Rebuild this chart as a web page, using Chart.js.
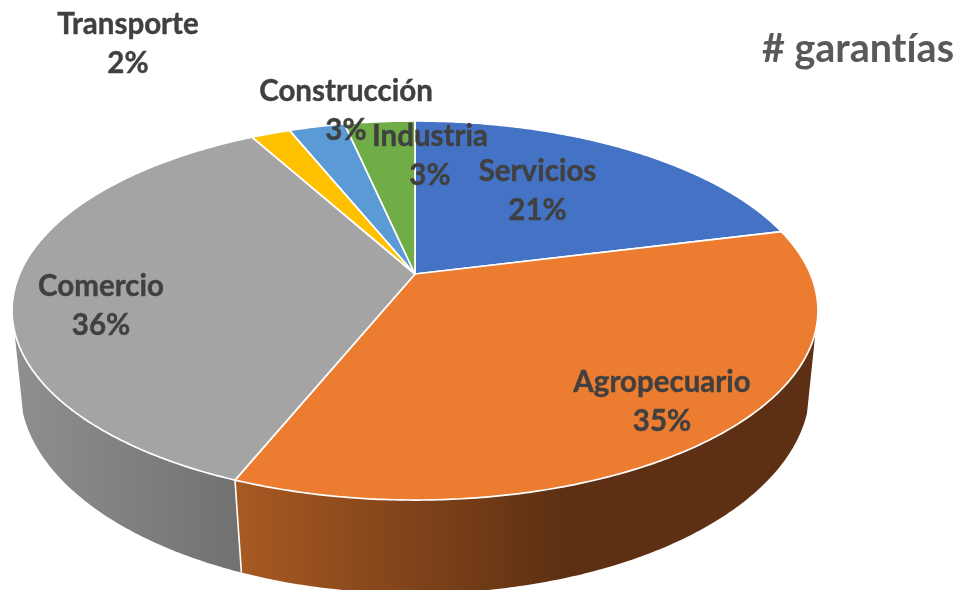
<!DOCTYPE html>
<html><head><meta charset="utf-8">
<style>html,body{margin:0;padding:0;background:#fff}#w{width:960px;height:590px;overflow:hidden}</style>
<script src="https://cdn.jsdelivr.net/npm/chart.js@4"></script>
</head><body><div id="w"><canvas id="c" width="960" height="590"></canvas></div>
<script>
const categories = ["Servicios","Agropecuario","Comercio","Transporte","Construcción","Industria"];
const shares = [21.1,35.0,35.9,1.9,2.7,3.4];
const topColors = ["#4472C4","#EC7C30","#A4A4A4","#FFC000","#5B9BD5","#70AD47"];
const chartTitle = "# garantías";

const FONT = '"Lato","Carlito","Noto Sans",sans-serif';
// perspective of the pie disc: top rim and bottom rim
const topRim = {cx:415, y0:274, A:395.4, a:182.5, b:0.1926};
const botRim = {cx:415, y0:352, A:388.9, a:199.2, b:0.175};
function project(r, t){
  const u=Math.cos(t), v=Math.sin(t), w=1-r.b*v;
  return [r.cx + r.A*u/w, r.y0 + r.a*v/w];
}
const labelCentres = [[537.5,191],[662,402],[101,305.5],[128,43.5],[346,110.5],[430,156]];
const frontFrom = 17*Math.PI/180, frontTo = 163*Math.PI/180;

const pie3d = {
  id:'pie3d',
  beforeDraw(chart){ chart.ctx.textRendering='optimizeSpeed'; },
  beforeDatasetsDraw(chart){
    const ctx=chart.ctx, arcs=chart.getDatasetMeta(0).data;
    const wallGrad=(i)=>{
      const g=ctx.createLinearGradient(14,0,818,0);
      if(i===1){ g.addColorStop(0,'#b8662a'); g.addColorStop(0.275,'#a85a22'); g.addColorStop(0.68,'#5e3013'); g.addColorStop(1,'#5e3013'); }
      else { g.addColorStop(0,'#8f8f8f'); g.addColorStop(0.275,'#727272'); g.addColorStop(1,'#606060'); }
      return g;
    };
    ctx.save();
    ctx.lineJoin='round';
    // side wall: only the part of each slice facing the viewer
    arcs.forEach((arc,i)=>{
      const s=Math.max(arc.startAngle,frontFrom), e=Math.min(arc.endAngle,frontTo);
      if(e<=s) return;
      const n=Math.ceil((e-s)/0.01);
      ctx.beginPath();
      for(let k=0;k<=n;k++){ const p=project(topRim,s+(e-s)*k/n); k?ctx.lineTo(...p):ctx.moveTo(...p); }
      for(let k=n;k>=0;k--){ ctx.lineTo(...project(botRim,s+(e-s)*k/n)); }
      ctx.closePath();
      ctx.fillStyle=wallGrad(i); ctx.fill();
    });
    // white seam on the wall between slices
    ctx.strokeStyle='#fff'; ctx.lineWidth=1.6;
    arcs.forEach(arc=>{
      if(arc.endAngle>frontFrom && arc.endAngle<frontTo){
        ctx.beginPath(); ctx.moveTo(...project(topRim,arc.endAngle)); ctx.lineTo(...project(botRim,arc.endAngle)); ctx.stroke();
      }
    });
    // top faces
    arcs.forEach((arc,i)=>{
      const n=Math.max(4,Math.ceil((arc.endAngle-arc.startAngle)/0.01));
      ctx.beginPath(); ctx.moveTo(topRim.cx, topRim.y0);
      for(let k=0;k<=n;k++) ctx.lineTo(...project(topRim,arc.startAngle+(arc.endAngle-arc.startAngle)*k/n));
      ctx.closePath();
      ctx.fillStyle=topColors[i]; ctx.fill();
      ctx.strokeStyle='#fff'; ctx.lineWidth=1.7; ctx.stroke();
    });
    ctx.restore();
    return false;
  },
  afterDraw(chart){
    const ctx=chart.ctx, total=shares.reduce((a,b)=>a+b,0);
    ctx.save();
    ctx.font='bold 29.5px '+FONT; ctx.fillStyle='#404040'; ctx.strokeStyle='#404040'; ctx.lineWidth=0.4; ctx.textAlign='center'; ctx.textBaseline='middle';
    categories.forEach((c,i)=>{
      const [x,y]=labelCentres[i], pct=Math.round(shares[i]/total*100)+'%';
      ctx.fillText(c,x,y-19.5); ctx.strokeText(c,x,y-19.5);
      ctx.fillText(pct,x,y+19.5); ctx.strokeText(pct,x,y+19.5);
    });
    ctx.restore();
  }
};

new Chart(document.getElementById('c'),{
  type:'pie',
  data:{labels:categories,datasets:[{data:shares,backgroundColor:topColors,borderColor:'#fff'}]},
  options:{
    responsive:false,animation:false,
    layout:{padding:{right:6}},
    plugins:{
      legend:{display:false},tooltip:{enabled:false},
      title:{display:true,text:chartTitle,align:'end',color:'#595959',font:{family:FONT,size:39.5,weight:'bold'},padding:{top:26,bottom:0}}
    }
  },
  plugins:[pie3d]
});
</script></body></html>
